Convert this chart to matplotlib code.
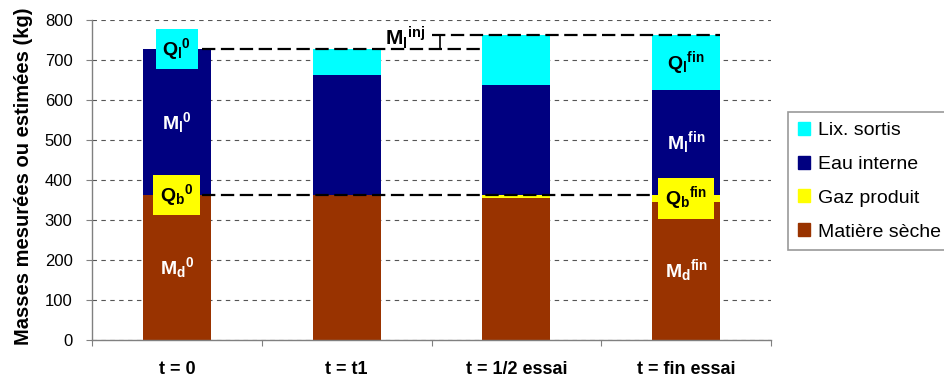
import numpy as np
import matplotlib
matplotlib.use("Agg")
import matplotlib.pyplot as plt
from matplotlib.patches import Patch

# valeurs (kg)
categories = ['t = 0', 't = t1', 't = 1/2 essai', 't = fin essai']
matiere_seche = [362, 362, 356, 345]
gaz_produit = [0, 0, 6, 18]
eau_interne = [365, 300, 275, 262]
lix_sortis = [0, 65, 125, 137]

c_lix = '#00FFFF'
c_eau = '#000080'
c_gaz = '#FFFF00'
c_mat = '#993300'

plt.rcParams['font.family'] = ['Liberation Sans', 'DejaVu Sans']
plt.rcParams['mathtext.fontset'] = 'custom'
plt.rcParams['mathtext.rm'] = 'Liberation Sans'
plt.rcParams['mathtext.bf'] = 'Liberation Sans:bold'
plt.rcParams['mathtext.it'] = 'Liberation Sans:italic'

fig = plt.figure(figsize=(9.44, 3.83), dpi=100)
ax = fig.add_axes([92/944, 43/383, 679/944, 320/383])

x = np.arange(len(categories))
w = 0.4
series = [(matiere_seche, c_mat, 'Matière sèche'),
          (gaz_produit, c_gaz, 'Gaz produit'),
          (eau_interne, c_eau, 'Eau interne'),
          (lix_sortis, c_lix, 'Lix. sortis')]
bottom = np.zeros(len(categories))
bottoms = []
for vals, col, lab in series:
    bottoms.append(bottom.copy())
    ax.bar(x, vals, w, bottom=bottom, color=col, zorder=2)
    bottom = bottom + np.array(vals)
totals = bottom

ax.set_xlim(-0.5, 3.5)
ax.set_ylim(0, 800)
ax.set_yticks(range(0, 801, 100))
ax.yaxis.grid(True, color='#555555', linestyle=(0, (4, 4)), linewidth=0.8)
ax.set_axisbelow(True)

for s in ['top', 'right']:
    ax.spines[s].set_visible(False)
for s in ['left', 'bottom']:
    ax.spines[s].set_color('#808080')
    ax.spines[s].set_linewidth(1.0)

ax.set_xticks([-0.5, 0.5, 1.5, 2.5, 3.5])
ax.set_xticklabels([])
ax.set_xticks(x, minor=True)
ax.set_xticklabels(categories, minor=True, fontweight='bold', fontsize=13)
ax.tick_params(axis='x', which='minor', length=0, pad=15)
ax.tick_params(axis='x', which='major', length=4, color='#808080')
ax.tick_params(axis='y', length=4, color='#808080', labelsize=12, pad=10)

fig.text(24/944, 0.54, 'Masses mesurées ou estimées (kg)', rotation=90,
         ha='center', va='center', fontsize=14.5, fontweight='bold')

# lignes de repère
dash = dict(color='black', lw=1.6, dashes=(6, 2.5), zorder=4)
ax.plot([0.15, 1.8], [totals[0], totals[0]], **dash)
ax.plot([1.5, 3.2], [totals[2], totals[2]], **dash)
ax.plot([0.15, 2.8], [matiere_seche[0], matiere_seche[0]], **dash)
ax.plot([1.55, 1.55], [totals[0], totals[2]], color='black', lw=1.2, zorder=4)
ax.text(1.345, (totals[0] + totals[2]) / 2 + 12, r'$\mathbf{M_l{}^{inj}}$',
        ha='center', va='center', fontsize=15, zorder=5)

# étiquettes dans les barres
box = 'square,pad=0.35'
ax.text(0, totals[0], r'$\mathbf{Q_l{}^0}$', ha='center', va='center', fontsize=14,
        bbox=dict(boxstyle=box, fc=c_lix, ec='none'), zorder=5)
ax.text(0, matiere_seche[0], r'$\mathbf{Q_b{}^0}$', ha='center', va='center', fontsize=14,
        bbox=dict(boxstyle=box, fc=c_gaz, ec='none'), zorder=5)
ax.text(0, bottoms[2][0] + eau_interne[0] / 2, r'$\mathbf{M_l{}^0}$', ha='center',
        va='center', fontsize=14, color='white', zorder=5)
ax.text(0, matiere_seche[0] / 2, r'$\mathbf{M_d{}^0}$', ha='center', va='center',
        fontsize=14, color='white', zorder=5)

ax.text(3, bottoms[3][3] + lix_sortis[3] / 2, r'$\mathbf{Q_l{}^{fin}}$', ha='center',
        va='center', fontsize=14, zorder=5)
ax.text(3, bottoms[2][3] + eau_interne[3] / 2, r'$\mathbf{M_l{}^{fin}}$', ha='center',
        va='center', fontsize=14, color='white', zorder=5)
ax.text(3, bottoms[1][3] + gaz_produit[3] / 2, r'$\mathbf{Q_b{}^{fin}}$', ha='center',
        va='center', fontsize=14,
        bbox=dict(boxstyle=box, fc=c_gaz, ec='none'), zorder=5)
ax.text(3, matiere_seche[3] / 2, r'$\mathbf{M_d{}^{fin}}$', ha='center', va='center',
        fontsize=14, color='white', zorder=5)

handles = [Patch(color=col) for _, col, _ in series][::-1]
labels = [lab for _, _, lab in series][::-1]
leg = fig.legend(handles, labels, loc='upper left', bbox_to_anchor=(788/944, 1 - 112/383),
                 frameon=True, fancybox=False, edgecolor='#808080', fontsize=14,
                 handlelength=0.65, handleheight=0.65, handletextpad=0.4,
                 labelspacing=0.85, borderpad=0.5, borderaxespad=0)
leg.get_frame().set_linewidth(1.2)

fig.savefig('out.png', dpi=100)
